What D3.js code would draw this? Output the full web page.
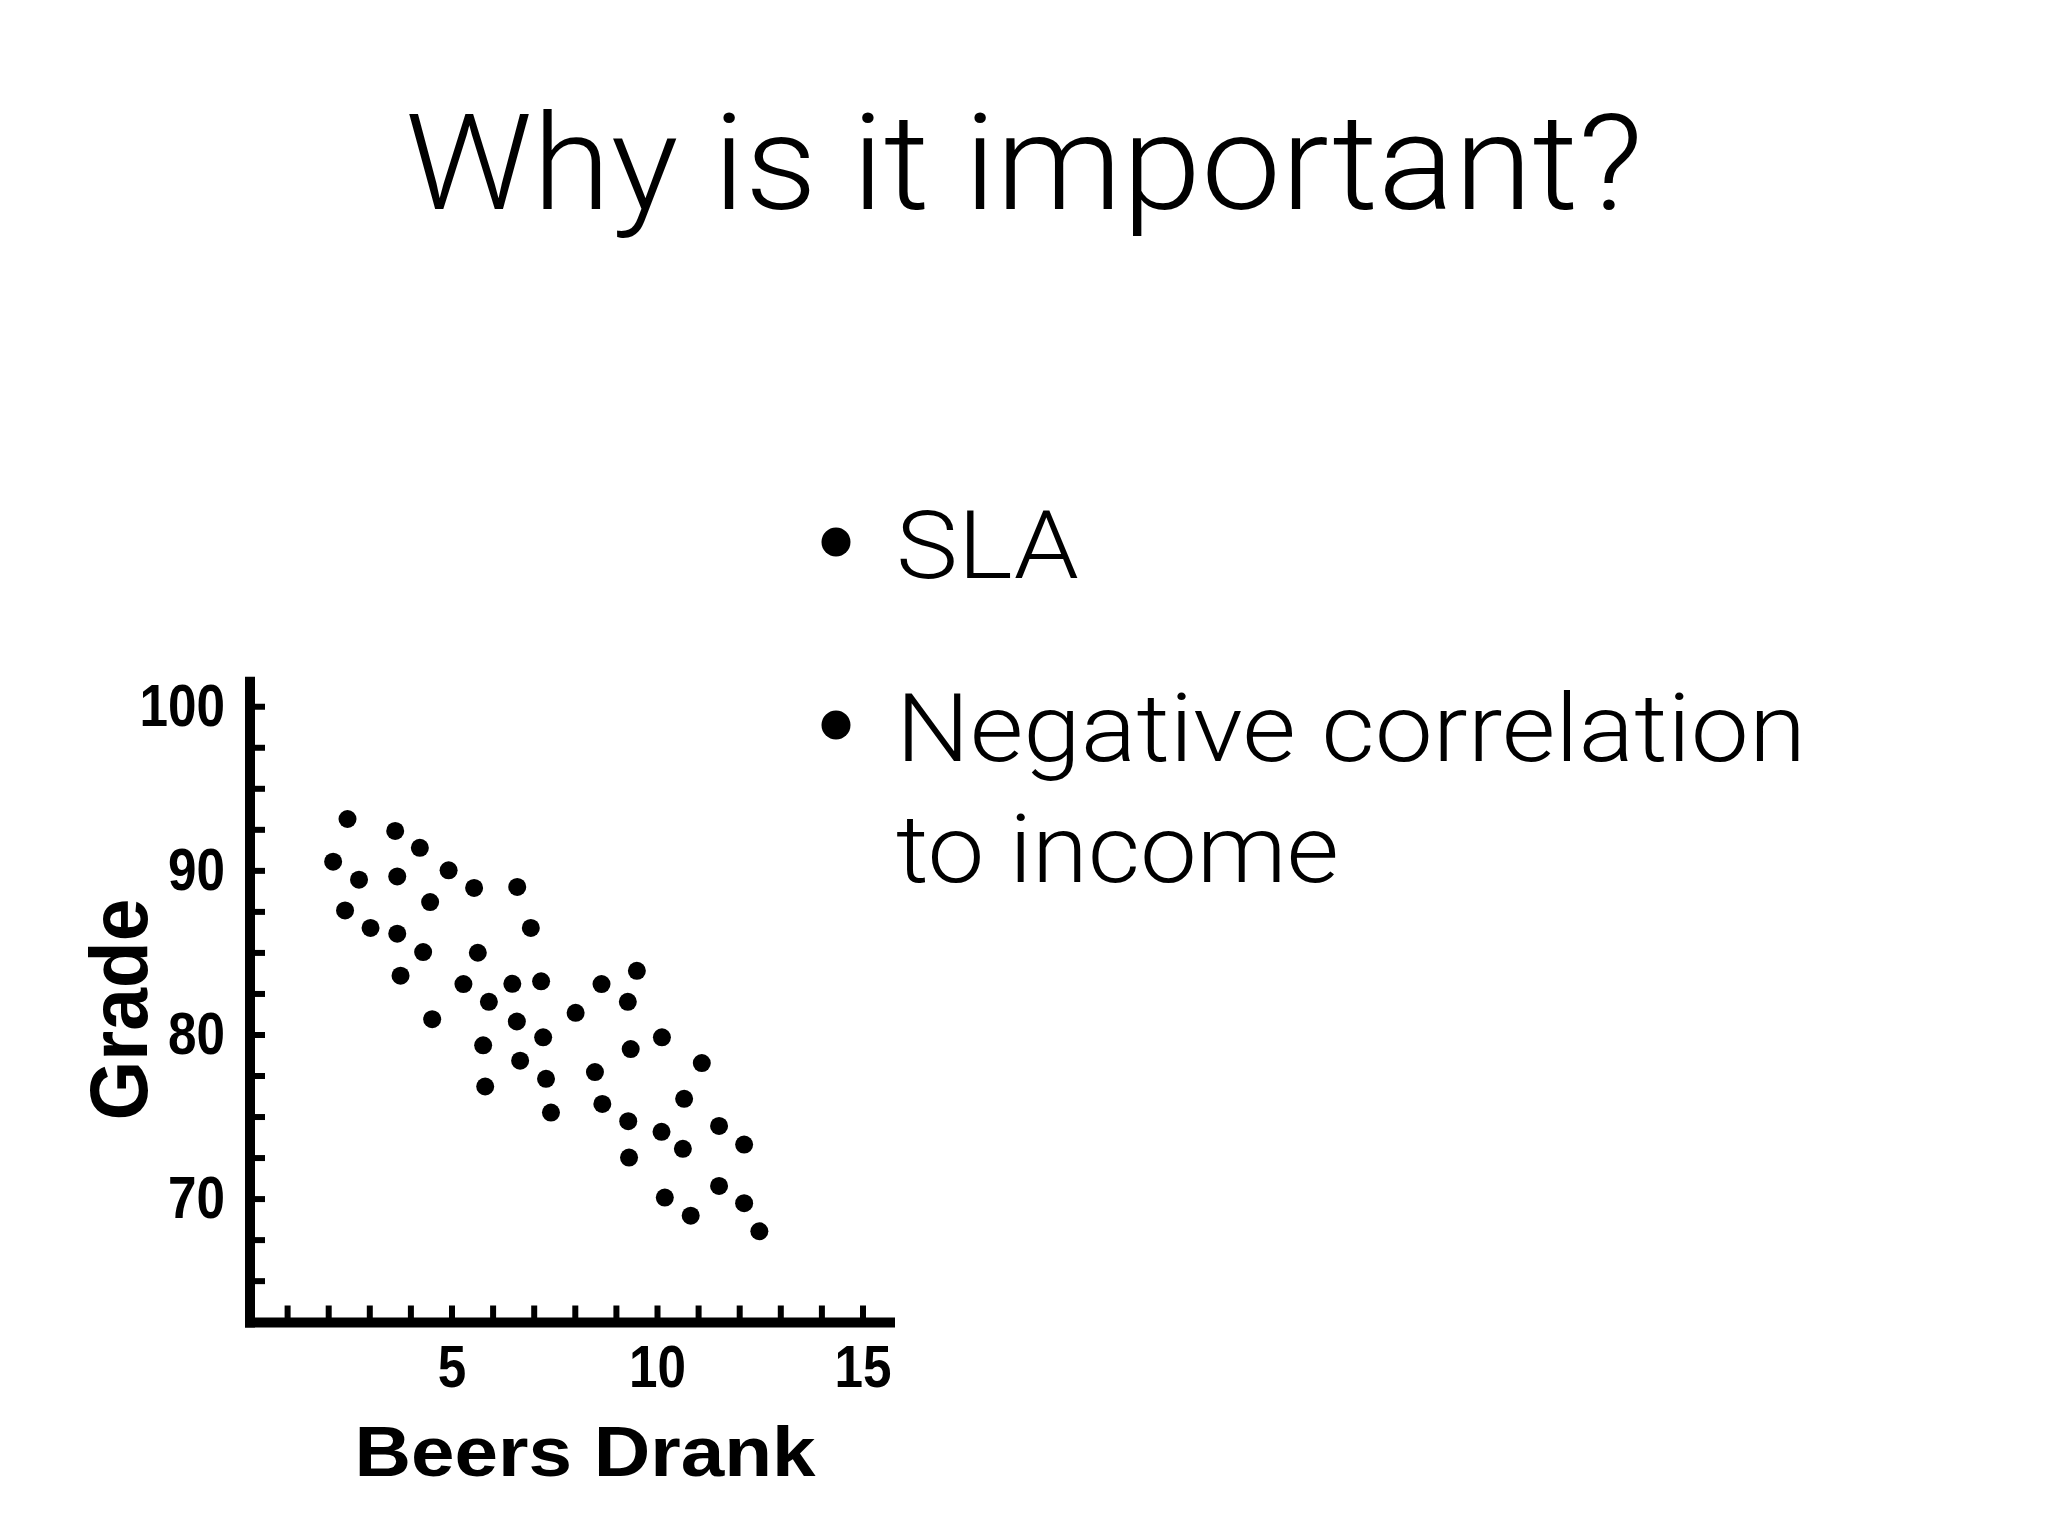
<!DOCTYPE html>
<html>
<head>
<meta charset="utf-8">
<script src="https://cdn.jsdelivr.net/npm/d3@7"></script>
<style>
  html, body { margin: 0; padding: 0; background: #fff; }
  svg { display: block; }
  .slide_title, .slide_bullet { font-family: "Roboto", "Liberation Sans", sans-serif; font-weight: 300; fill: #000; }
  .axis_text, .tick text { font-family: "Liberation Sans", Arial, sans-serif; font-weight: bold; fill: #000; }
</style>
</head>
<body>
<svg id="d3-area"></svg>
<script>
// DATA
const beers = [2.47, 3.63, 4.23, 2.12, 2.75, 3.68, 4.93, 5.55, 6.60, 4.48,
               2.41, 3.03, 3.68, 6.93, 4.31, 5.64, 3.76, 5.29, 6.48, 7.18,
               5.91, 4.53, 6.59, 7.23, 5.77, 9.51, 8.65, 9.29, 8.02, 10.12,
               6.67, 7.30, 5.82, 7.42, 9.36, 11.09, 8.49, 8.67, 10.66, 9.30,
               10.11, 11.51, 10.63, 12.12, 9.32, 11.51, 10.19, 12.12, 10.82, 12.49];
const grades = [93.13, 92.40, 91.37, 90.53, 89.43, 89.63, 90.00, 88.93, 88.99, 88.07,
                87.56, 86.49, 86.14, 86.49, 85.02, 84.98, 83.58, 83.07, 83.09, 83.24,
                81.99, 80.93, 80.79, 79.83, 79.34, 83.88, 83.07, 81.99, 81.32, 79.83,
                78.40, 77.30, 76.83, 75.24, 79.11, 78.26, 77.71, 75.77, 76.08, 74.72,
                74.07, 74.43, 73.03, 73.29, 72.50, 70.77, 70.06, 69.72, 68.96, 68.01];
const xTickValues = d3.range(1, 16);
const xTickLabels = [5, 10, 15];
const yTickValues = d3.range(65, 100.1, 2.5);
const yTickLabels = [70, 80, 90, 100];
const titleText = "Why is it important?";
const bulletItems = [["SLA"], ["Negative correlation", "to income"]];
const xTitle = "Beers Drank";
const yTitle = "Grade";

// SET VARIABLES
const canvasWidth = 2048;
const canvasHeight = 1536;
const plot = {left: 250, right: 895, top: 676.7, bottom: 1322.5};
// target widths of the big slide texts (font substitution)
const fitWidth = {"Why is it important?": 1238, "SLA": 183, "Negative correlation": 910, "to income": 443};
const digitWidth = 28.5;

const svg = d3.select('#d3-area')
              .attr('width', canvasWidth)
              .attr('height', canvasHeight);

const x = d3.scaleLinear().domain([0, 15]).range([246, 862.5]);
const y = d3.scaleLinear().domain([62.45, 101.8]).range([plot.bottom, plot.top]);

// TITLE
svg.append('text')
   .attr('class', 'slide_title')
   .attr('x', 1024)
   .attr('y', 209)
   .attr('text-anchor', 'middle')
   .attr('font-size', 133)
   .attr('textLength', fitWidth[titleText])
   .attr('lengthAdjust', 'spacingAndGlyphs')
   .text(titleText);

// BULLETS
const bulletTop = [578, 761];
const lineGap = 120.5;
bulletItems.forEach((lines, i) => {
  svg.append('circle')
     .attr('cx', 836)
     .attr('cy', bulletTop[i] - 36)
     .attr('r', 14.5)
     .attr('fill', '#000');
  lines.forEach((line, j) => {
    svg.append('text')
       .attr('class', 'slide_bullet')
       .attr('x', 896)
       .attr('y', bulletTop[i] + j * lineGap)
       .attr('font-size', 95)
       .attr('textLength', fitWidth[line])
       .attr('lengthAdjust', 'spacingAndGlyphs')
       .text(line);
  });
});

// CHART
const chart = svg.append('g').attr('id', 'scatterGroup');

const yAxis = d3.axisLeft(y)
                .tickValues(yTickValues)
                .tickSize(-15)
                .tickPadding(25)
                .tickFormat(d => yTickLabels.includes(d) ? d : "");
const xAxis = d3.axisBottom(x)
                .tickValues(xTickValues)
                .tickSize(-17)
                .tickPadding(22)
                .tickFormat(d => xTickLabels.includes(d) ? d : "");

const yG = chart.append('g')
                .attr('transform', `translate(${plot.left}, 0)`)
                .call(yAxis);
const xG = chart.append('g')
                .attr('transform', `translate(0, ${plot.bottom})`)
                .call(xAxis);
[yG, xG].forEach(g => {
  g.select('.domain').remove();
  g.selectAll('.tick line').attr('stroke', '#000').attr('stroke-width', 6);
  g.selectAll('.tick text')
   .attr('font-size', 60)
   .each(function() {
     const t = d3.select(this);
     const n = t.text().length;
     if (n) t.attr('textLength', n * digitWidth).attr('lengthAdjust', 'spacingAndGlyphs');
   });
});

chart.append('line')
     .attr('x1', plot.left).attr('x2', plot.left)
     .attr('y1', plot.top).attr('y2', plot.bottom + 5)
     .attr('stroke', '#000').attr('stroke-width', 10);
chart.append('line')
     .attr('x1', plot.left - 5).attr('x2', plot.right)
     .attr('y1', plot.bottom).attr('y2', plot.bottom)
     .attr('stroke', '#000').attr('stroke-width', 10);

chart.selectAll('circle.dot')
     .data(beers.map((b, i) => ({beers: b, grade: grades[i]})))
     .enter()
     .append('circle')
       .attr('class', 'dot')
       .attr('cx', d => x(d.beers))
       .attr('cy', d => y(d.grade))
       .attr('r', 9)
       .attr('fill', '#000');

chart.append('text')
     .attr('class', 'axis_text')
     .attr('x', 585)
     .attr('y', 1476)
     .attr('text-anchor', 'middle')
     .attr('font-size', 70)
     .attr('textLength', 461)
     .attr('lengthAdjust', 'spacingAndGlyphs')
     .text(xTitle);

chart.append('text')
     .attr('class', 'axis_text')
     .attr('transform', 'translate(147, 1009.5) rotate(-90)')
     .attr('text-anchor', 'middle')
     .attr('font-size', 82)
     .attr('textLength', 222)
     .attr('lengthAdjust', 'spacingAndGlyphs')
     .text(yTitle);
</script>
</body>
</html>
